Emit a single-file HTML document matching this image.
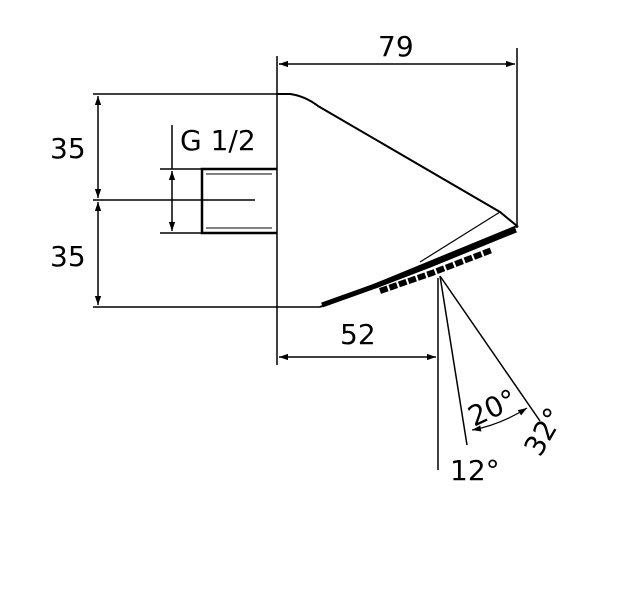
<!DOCTYPE html>
<html><head><style>html,body{margin:0;padding:0;background:#fff}svg{display:block}</style></head><body>
<svg width="633" height="600" viewBox="0 0 633 600" xmlns="http://www.w3.org/2000/svg">
<defs>
<marker id="a" viewBox="0 0 10 10" refX="10" refY="5" markerWidth="9" markerHeight="9" orient="auto-start-reverse" markerUnits="userSpaceOnUse"><path d="M0,1.5 L10,5 L0,8.5 Z" fill="#000"/></marker>
</defs>
<g stroke="#000" fill="none" stroke-width="1.5">
<line x1="93" y1="94" x2="290" y2="94"/>
<line x1="93" y1="307" x2="320" y2="307"/>
<line x1="277" y1="56" x2="277" y2="365"/>
<line x1="517" y1="48" x2="517" y2="228"/>
<line x1="438" y1="278" x2="438" y2="470"/>
<line x1="160" y1="169" x2="202" y2="169"/>
<line x1="160" y1="233" x2="202" y2="233"/>
<line x1="172" y1="125" x2="172" y2="169"/>
<line x1="93" y1="200" x2="255" y2="200"/>
<line x1="98" y1="96" x2="98" y2="198" marker-start="url(#a)" marker-end="url(#a)"/>
<line x1="98" y1="202" x2="98" y2="305" marker-start="url(#a)" marker-end="url(#a)"/>
<line x1="172" y1="171" x2="172" y2="231" marker-start="url(#a)" marker-end="url(#a)"/>
<line x1="279" y1="64" x2="515" y2="64" marker-start="url(#a)" marker-end="url(#a)"/>
<line x1="279" y1="357" x2="436" y2="357" marker-start="url(#a)" marker-end="url(#a)"/>
<path d="M277,169 H202 V233 H277" stroke-width="2.5"/>
<line x1="206" y1="174" x2="272" y2="174" stroke-width="1"/>
<line x1="206" y1="228" x2="272" y2="228" stroke-width="1"/>
<path d="M277,94 H290 Q305,96 318,106 L500,212 L517,226 L320,307" stroke-width="2"/>
<path d="M500,212 L420,262" stroke-width="1.2"/>
<path d="M322,305 L378,285 L430,265 L516,230" stroke-width="5"/>
<path d="M380,291 L432,273 L492,250" stroke-width="6" stroke-dasharray="8 2"/>
<line x1="440" y1="276" x2="467" y2="445"/>
<line x1="440" y1="276" x2="540" y2="421"/>
<path d="M472,430 Q500,425 527,408" marker-start="url(#a)" marker-end="url(#a)" stroke-width="1.2"/>
</g>
<g font-family="'DejaVu Sans','Liberation Sans',sans-serif" font-size="28" fill="#000">
<text x="378" y="56">79</text>
<text x="50" y="158">35</text>
<text x="50" y="266">35</text>
<text x="180" y="150">G 1/2</text>
<text x="340" y="344">52</text>
<text x="450" y="480">12°</text>
<text transform="translate(474,427) rotate(-25)">20°</text>
<text transform="translate(540,458) rotate(-60)">32°</text>
</g>
</svg>
</body></html>
